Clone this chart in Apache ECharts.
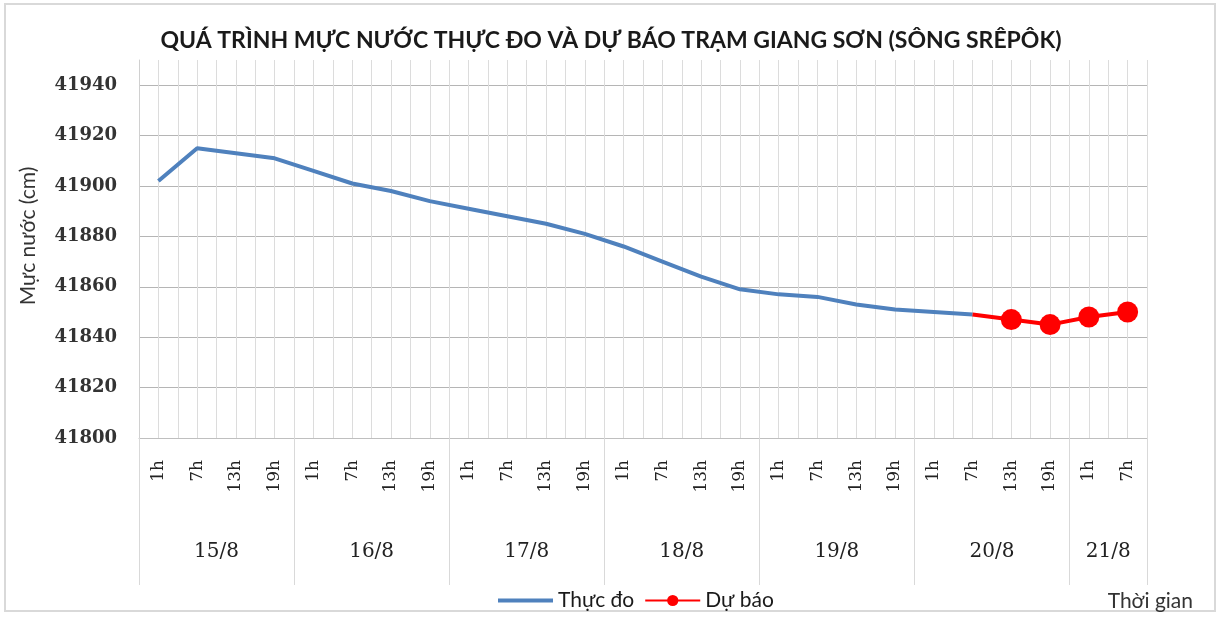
<!DOCTYPE html>
<html>
<head>
<meta charset="utf-8">
<script src="https://cdn.jsdelivr.net/npm/echarts@6/dist/echarts.min.js"></script>
<style>
html,body{margin:0;padding:0;background:#fff;}
#wrap{position:absolute;left:4px;top:3px;width:1212px;height:609px;border:2px solid #d9d9d9;box-sizing:border-box;}
#chart{position:absolute;left:0;top:0;width:1222px;height:618px;}
</style>
</head>
<body>
<div id="wrap"></div>
<div id="chart"></div>
<script>
const hourLabels = ['1h','7h','13h','19h','1h','7h','13h','19h','1h','7h','13h','19h','1h','7h','13h','19h','1h','7h','13h','19h','1h','7h','13h','19h','1h','7h'];
const dayLabels = ['15/8','16/8','17/8','18/8','19/8','20/8','21/8'];
const daySizes = [4,4,4,4,4,4,2];
const observed = [41902,41915,41913,41911,41906,41901,41898,41894,41891,41888,41885,41881,41876,41870,41864,41859,41857,41856,41853,41851,41850,41849,null,null,null,null];
const forecast = [null,null,null,null,null,null,null,null,null,null,null,null,null,null,null,null,null,null,null,null,null,41849,41847,41845,41848,41850];
const yTicks = {min:41800, max:41950, step:20};

const dayCenter = {};
let acc = 0;
daySizes.forEach((s,i)=>{ dayCenter[acc + s/2] = dayLabels[i]; acc += s; });
const nCats = hourLabels.length;

const forecastData = forecast.map((v,i)=>{
  if (v === null) return null;
  if (i > 0 && forecast[i-1] === null) return {value:v, symbol:'none'};
  return v;
});

const ySplitColors = [];
for (let v = yTicks.min; v <= yTicks.max; v += yTicks.step) ySplitColors.push('#b5b5b5');
ySplitColors.push('rgba(0,0,0,0)');

const chart = echarts.init(document.getElementById('chart'));
chart.setOption({
  animation:false,
  backgroundColor:'transparent',
  title:[{
    text:'QUÁ TRÌNH MỰC NƯỚC THỰC ĐO VÀ DỰ BÁO TRẠM GIANG SƠN (SÔNG SRÊPÔK)',
    left:'center', top:24,
    textStyle:{fontFamily:'Lato', fontWeight:'bold', fontSize:23, color:'#1a1a1a'}
  },{
    text:'Thời gian', right:24, top:586,
    textStyle:{fontFamily:'Lato', fontWeight:'normal', fontSize:21, color:'#333'}
  }],
  legend:{
    left:493, top:585,
    itemWidth:55, itemHeight:14, itemGap:10,
    textStyle:{fontFamily:'Lato', fontSize:21, color:'#1a1a1a'},
    data:[{name:'Thực đo', icon:'path://M0,0 L55,0 L55,4 L0,4 Z'},{name:'Dự báo'}]
  },
  grid:{left:139, right:75, top:60, bottom:180, containLabel:false},
  xAxis:[{
    type:'category',
    data:hourLabels,
    boundaryGap:true,
    axisLine:{show:true, lineStyle:{color:'#bfbfbf', width:1}},
    axisTick:{show:true, interval:(idx)=>idx % 4 === 0, length:147, lineStyle:{color:'#d9d9d9'}},
    axisLabel:{interval:0, rotate:90, margin:22, fontFamily:'DejaVu Serif', fontSize:17, color:'#222'},
    splitLine:{show:false}
  },{
    type:'value',
    position:'bottom',
    min:0, max:nCats, interval:0.5,
    axisLine:{show:false},
    axisTick:{show:false},
    axisLabel:{margin:104, fontFamily:'DejaVu Serif', fontSize:20, color:'#222',
      formatter:(v)=> dayCenter[v] !== undefined ? dayCenter[v] : ''},
    splitLine:{show:true, lineStyle:{color:'#dcdcdc', width:1}}
  }],
  yAxis:{
    type:'value',
    min:yTicks.min, max:yTicks.max, interval:yTicks.step,
    name:'Mực nước (cm)',
    nameLocation:'middle', nameGap:100,
    nameTextStyle:{fontFamily:'Lato', fontSize:21, color:'#333', padding:[0,0,0,26]},
    axisLine:{show:true, lineStyle:{color:'#d0d0d0'}},
    axisTick:{show:false},
    axisLabel:{margin:22, fontFamily:'DejaVu Serif', fontWeight:'bold', fontSize:18, color:'#333',
      formatter:(v)=> v > 41940 ? '' : String(v)},
    splitLine:{show:true, lineStyle:{color:ySplitColors, width:1}}
  },
  series:[{
    name:'Thực đo', type:'line', xAxisIndex:0,
    data:observed,
    symbol:'none', showSymbol:false,
    lineStyle:{color:'#4f81bd', width:4},
    itemStyle:{color:'#4f81bd'},
    z:3
  },{
    name:'Dự báo', type:'line', xAxisIndex:0,
    data:forecastData,
    symbol:'circle', symbolSize:21,
    lineStyle:{color:'#ff0000', width:4},
    itemStyle:{color:'#ff0000'},
    z:4
  }]
});
</script>
</body>
</html>
